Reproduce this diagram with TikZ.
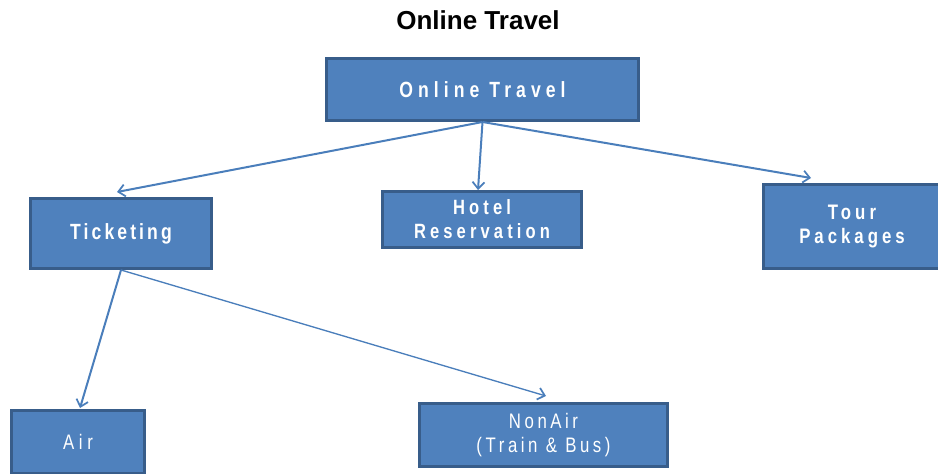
\documentclass[tikz,border=0pt]{standalone}
\usepackage{fontspec}
\setmainfont{Liberation Sans}
\newfontfamily\cond[FakeStretch=0.8]{Liberation Sans}
\usetikzlibrary{arrows.meta,calc}
\definecolor{boxfill}{HTML}{4F81BD}
\definecolor{boxline}{HTML}{385D8A}
\definecolor{arrowc}{HTML}{4A7EBB}
\newcommand\bxbold[3]{\cond\bfseries\fontsize{#1}{#2}\selectfont\addfontfeatures{LetterSpace=#3}}
\newcommand\bxreg[3]{\cond\fontsize{#1}{#2}\selectfont\addfontfeatures{LetterSpace=#3}}
\begin{document}
\begin{tikzpicture}[x=0.75pt,y=-0.75pt,
  box/.style={draw=boxline, fill=boxfill, line width=2.25pt, text=white, align=center, inner sep=0pt, anchor=center},
  link/.style={draw=arrowc, line width=1.5pt, -{Straight Barb[length=5pt,width=9pt,line width=1.3pt]}}]
\useasboundingbox (0,0) rectangle (938,474);
\clip (0,0) rectangle (938,474);
\node[font=\bfseries\fontsize{19.5}{22}\selectfont] (title) at (478,20) {Online Travel};
\node[box, minimum width=234pt, minimum height=46.5pt, font=\bxbold{16.5}{20}{23}] (ot) at (482.5,89.5) {Online Travel};
\node[box, minimum width=135.75pt, minimum height=52.5pt, font=\bxbold{16.5}{20}{14}] (tick) at (121,233.5) {Ticketing};
\node[box, minimum width=149.25pt, minimum height=42pt, font=\bxbold{15.5}{18}{20}] (hotel) at (482,219.5) {Hotel\\Reservation};
\node[box, minimum width=132.75pt, minimum height=63pt, font=\bxbold{15.75}{17.25}{19}] (tour) at (852,226.5) {Tour\\Packages};
\node[box, minimum width=99.75pt, minimum height=47.25pt, font=\bxreg{15.75}{18}{22}] (air) at (78,442) {Air};
\node[box, minimum width=186pt, minimum height=47.25pt, font=\bxreg{15.75}{18}{17}] (nonair) at (543.5,435) {NonAir\\(Train \& Bus)};
\draw[link] (ot.south) -- ($(tick.north)+(-4,-5)$);
\draw[link] (ot.south) -- ($(hotel.north)+(-4,0)$);
\draw[link] (ot.south) -- ($(tour.north)+(-41,-5)$);
\draw[link] (tick.south) -- ($(air.north)+(2,-1)$);
\draw[link, line width=1pt] (tick.south) -- ($(nonair.north)+(2.5,-6)$);
\end{tikzpicture}
\end{document}
